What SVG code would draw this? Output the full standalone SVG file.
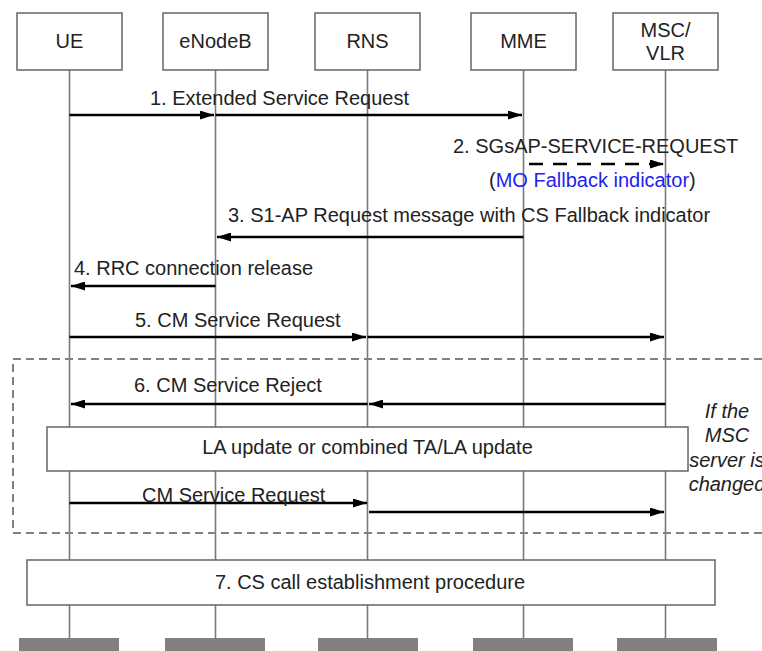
<svg xmlns="http://www.w3.org/2000/svg" width="762" height="651" viewBox="0 0 762 651">
<defs>
<marker id="ah" viewBox="0 0 14 9" refX="14" refY="4.5" markerWidth="14" markerHeight="9" markerUnits="userSpaceOnUse" orient="auto">
<path d="M0,0 L14,4.5 L0,9 z" fill="#000"/>
</marker>
<style>
text{font-family:"Liberation Sans",Arial,sans-serif;font-size:20px;fill:#222}
.box{fill:#fff;stroke:#666;stroke-width:1.5}
.life{stroke:#7a7a7a;stroke-width:1.6;fill:none}
.bar{fill:#808080}
.msg{stroke:#000;stroke-width:2.5;fill:none;marker-end:url(#ah)}
.dash{stroke-dasharray:14,10}
.c{text-anchor:middle}
.it{font-style:italic}
.blue{fill:#2222ee}
.frame{fill:none;stroke:#808080;stroke-width:2;stroke-dasharray:8,5}
</style>
</defs>
<rect width="762" height="651" fill="#fff"/>

<g id="lifelines">
<line class="life" x1="69.5" y1="70" x2="69.5" y2="640"/>
<line class="life" x1="215.5" y1="70" x2="215.5" y2="640"/>
<line class="life" x1="367.5" y1="70" x2="367.5" y2="640"/>
<line class="life" x1="523.5" y1="70" x2="523.5" y2="640"/>
<line class="life" x1="665.5" y1="70" x2="665.5" y2="640"/>
</g>

<g id="UE">
<rect class="box" x="17" y="13" width="105" height="57"/>
<text class="c" x="69.5" y="48">UE</text>
<rect class="bar" x="19" y="638" width="100" height="13"/>
</g>
<g id="eNodeB">
<rect class="box" x="163" y="13" width="105" height="57"/>
<text class="c" x="215.5" y="48">eNodeB</text>
<rect class="bar" x="165" y="638" width="100" height="13"/>
</g>
<g id="RNS">
<rect class="box" x="315" y="13" width="105" height="57"/>
<text class="c" x="367.5" y="48">RNS</text>
<rect class="bar" x="318" y="638" width="100" height="13"/>
</g>
<g id="MME">
<rect class="box" x="471" y="13" width="105" height="57"/>
<text class="c" x="523.5" y="48">MME</text>
<rect class="bar" x="473" y="638" width="100" height="13"/>
</g>
<g id="MSC_VLR">
<rect class="box" x="613" y="13" width="105" height="57"/>
<text class="c" x="665.5" y="37">MSC/</text>
<text class="c" x="665.5" y="60">VLR</text>
<rect class="bar" x="617" y="638" width="100" height="13"/>
</g>

<g id="mscChangeFrame">
<path class="frame" d="M762,359 H13 V533 H762"/>
<text class="c it" x="727" y="417.5">If the</text>
<text class="c it" x="727" y="442">MSC</text>
<text class="c it" x="727" y="466.5">server is</text>
<text class="c it" x="727" y="491">changed</text>
</g>

<g id="LAupdate">
<rect class="box" x="47" y="427" width="641" height="44"/>
<text class="c" x="367.5" y="454">LA update or combined TA/LA update</text>
</g>

<g id="CScall">
<rect class="box" x="27" y="560" width="688" height="45"/>
<text class="c" x="370" y="589">7. CS call establishment procedure</text>
</g>

<g id="connectors">
<path class="msg" d="M69.5,115 H214"/>
<path class="msg" d="M215.5,115 H522"/>
<text x="150" y="105">1. Extended Service Request</text>

<path class="msg dash" d="M529,164 H664"/>
<text x="453" y="153">2. SGsAP-SERVICE-REQUEST</text>
<text x="489" y="187">(<tspan class="blue">MO Fallback indicator</tspan>)</text>

<path class="msg" d="M523.5,237 H217"/>
<text x="228" y="222">3. S1-AP Request message with CS Fallback indicator</text>

<path class="msg" d="M215.5,286 H71"/>
<text x="74" y="275">4. RRC connection release</text>

<path class="msg" d="M69.5,337 H366"/>
<path class="msg" d="M367.5,337 H664"/>
<text x="135" y="327">5. CM Service Request</text>

<path class="msg" d="M665.5,404 H369"/>
<path class="msg" d="M367.5,404 H71"/>
<text x="134" y="392">6. CM Service Reject</text>

<path class="msg" d="M69.5,503 H367"/>
<path class="msg" d="M369,512 H664"/>
<text x="142" y="502">CM Service Request</text>
</g>
</svg>
